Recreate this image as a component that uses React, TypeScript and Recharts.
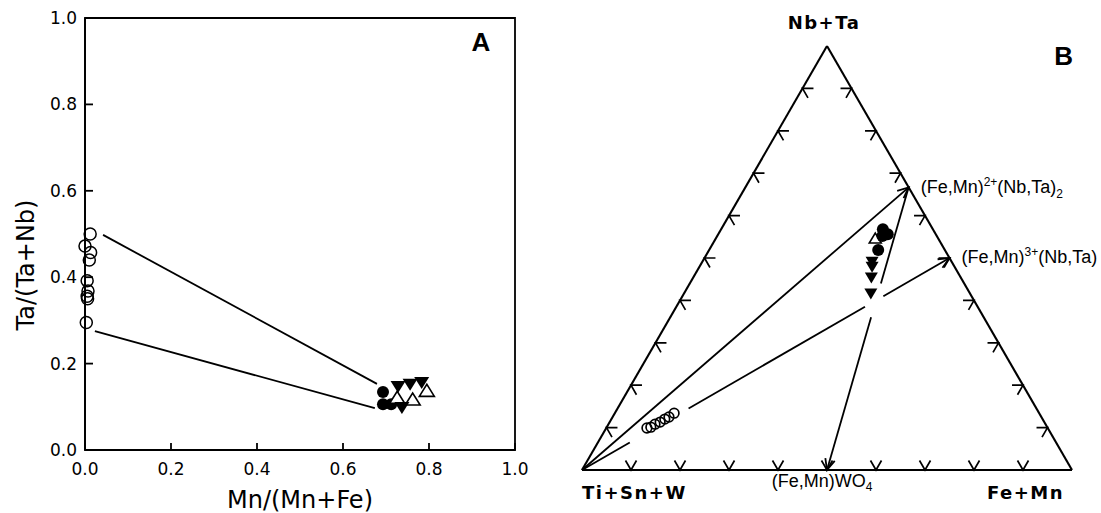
import React from 'react';
import { ScatterChart, Scatter, XAxis, YAxis, ReferenceLine, ReferenceArea } from 'recharts';

const SANS = "'DejaVu Sans', Verdana, sans-serif";
const HELV = "'Liberation Sans', Arial, Helvetica, sans-serif";
const SQ3 = Math.sqrt(3) / 2;

// ---------- panel A : Ta/(Ta+Nb) against Mn/(Mn+Fe)
const ticksA = [0, 0.2, 0.4, 0.6, 0.8, 1.0];

const aOpenCircles = [
  { x: 0.012, y: 0.5 },
  { x: 0.0, y: 0.472 },
  { x: 0.013, y: 0.457 },
  { x: 0.01, y: 0.44 },
  { x: 0.005, y: 0.392 },
  { x: 0.007, y: 0.368 },
  { x: 0.005, y: 0.356 },
  { x: 0.006, y: 0.35 },
  { x: 0.003, y: 0.295 },
];
const aFilledCircles = [
  { x: 0.693, y: 0.134 },
  { x: 0.693, y: 0.106 },
  { x: 0.712, y: 0.106 },
];
const aFilledDown = [
  { x: 0.728, y: 0.146 },
  { x: 0.756, y: 0.151 },
  { x: 0.783, y: 0.155 },
  { x: 0.737, y: 0.097 },
];
const aOpenUp = [
  { x: 0.726, y: 0.122 },
  { x: 0.762, y: 0.118 },
  { x: 0.795, y: 0.138 },
];
// tie lines between coexisting phases
const aTieLines = [
  [{ x: 0.042, y: 0.498 }, { x: 0.679, y: 0.153 }],
  [{ x: 0.023, y: 0.275 }, { x: 0.674, y: 0.097 }],
];

// ---------- panel B : ternary (Nb+Ta) - (Ti+Sn+W) - (Fe+Mn), atomic fractions
const bOpenCircles = [
  { nbTa: 0.099, feMn: 0.083 },
  { nbTa: 0.101, feMn: 0.09 },
  { nbTa: 0.108, feMn: 0.095 },
  { nbTa: 0.113, feMn: 0.103 },
  { nbTa: 0.12, feMn: 0.109 },
  { nbTa: 0.125, feMn: 0.115 },
  { nbTa: 0.134, feMn: 0.121 },
];
const bFilledCircles = [
  { nbTa: 0.568, feMn: 0.33 },
  { nbTa: 0.556, feMn: 0.346 },
  { nbTa: 0.552, feMn: 0.337 },
  { nbTa: 0.519, feMn: 0.345 },
];
const bFilledDown = [
  { nbTa: 0.49, feMn: 0.347 },
  { nbTa: 0.478, feMn: 0.353 },
  { nbTa: 0.453, feMn: 0.364 },
  { nbTa: 0.415, feMn: 0.382 },
];
const bOpenUp = [{ nbTa: 0.547, feMn: 0.325 }];

const ternaryTicks = [0.1, 0.2, 0.3, 0.4, 0.5, 0.6, 0.7, 0.8, 0.9];

const endMembers: Record<string, { nbTa: number; feMn: number }> = {
  tiSnW: { nbTa: 0, feMn: 0 },
  nbTa: { nbTa: 1, feMn: 0 },
  feMn: { nbTa: 0, feMn: 1 },
  columbite: { nbTa: 2 / 3, feMn: 1 / 3 },
  feMn3: { nbTa: 0.5, feMn: 0.5 },
  wolframite: { nbTa: 0, feMn: 0.5 },
};

// arrows: drawn pieces as fractions of the path (gaps where the original is broken)
const bMixLines = [
  { from: 'tiSnW', to: 'columbite', pieces: [[0, 1]] },
  { from: 'columbite', to: 'wolframite', pieces: [[0, 0.34], [0.46, 1]] },
  { from: 'tiSnW', to: 'feMn3', pieces: [[0, 0.13], [0.29, 0.77], [0.82, 1]] },
];

const bLabels = [
  { id: 'nbTa', at: 'nbTa', text: 'Nb+Ta' },
  { id: 'tiSnW', at: 'tiSnW', text: 'Ti+Sn+W' },
  { id: 'feMn', at: 'feMn', text: 'Fe+Mn' },
  { id: 'columbite', at: 'columbite', text: '(Fe,Mn)2+(Nb,Ta)2' },
  { id: 'feMn3', at: 'feMn3', text: '(Fe,Mn)3+(Nb,Ta)' },
  { id: 'wolframite', at: 'wolframite', text: '(Fe,Mn)WO4' },
];

const toXY = (c: { nbTa: number; feMn: number }) => ({ x: c.feMn + c.nbTa / 2, y: c.nbTa * SQ3 });

// ---------- shapes
const openCircle = (r: number, sw: number) => (p: any) => (
  <circle cx={p.cx} cy={p.cy} r={r} fill="none" stroke="#000" strokeWidth={sw} />
);
const dot = (r: number) => (p: any) => <circle cx={p.cx} cy={p.cy} r={r} fill="#000" />;
const triDown = (w: number, h: number) => (p: any) => (
  <polygon
    points={`${p.cx - w / 2},${p.cy - h / 2} ${p.cx + w / 2},${p.cy - h / 2} ${p.cx},${p.cy + h / 2}`}
    fill="#000"
  />
);
const triUp = (w: number, h: number) => (p: any) => (
  <polygon
    points={`${p.cx - w / 2},${p.cy + h / 2} ${p.cx + w / 2},${p.cy + h / 2} ${p.cx},${p.cy - h / 2}`}
    fill="#fff"
    stroke="#000"
    strokeWidth={1.6}
  />
);

const Chevron = (p: any) => (
  <path
    d="M-5.5,-9.5 L0,0 L5.5,-9.5"
    transform={`translate(${p.cx},${p.cy}) rotate(${p.payload.rot})`}
    fill="none"
    stroke="#000"
    strokeWidth={1.7}
  />
);

const segmentShape = (arrow: boolean) => (p: any) => {
  const { x1, y1, x2, y2 } = p;
  const ang = Math.atan2(y2 - y1, x2 - x1);
  const L = 12;
  const s = 0.42;
  const head = `M${x2 - L * Math.cos(ang - s)},${y2 - L * Math.sin(ang - s)} L${x2},${y2} L${x2 - L * Math.cos(ang + s)},${y2 - L * Math.sin(ang + s)}`;
  return (
    <g>
      <line x1={x1} y1={y1} x2={x2} y2={y2} stroke="#000" strokeWidth={1.8} />
      {arrow && <path d={head} fill="none" stroke="#000" strokeWidth={1.8} />}
    </g>
  );
};

const BLabel = (p: any) => {
  const { cx, cy, payload } = p;
  const big = { fontFamily: SANS, fontSize: 18, fontWeight: 700, letterSpacing: 1.5, fill: '#000' };
  const chem = { fontFamily: HELV, fontSize: 18, fill: '#000' };
  switch (payload.id) {
    case 'nbTa':
      return <text x={cx - 3} y={cy - 17} textAnchor="middle" {...big}>Nb+Ta</text>;
    case 'tiSnW':
      return <text x={cx} y={cy + 29} textAnchor="start" {...big}>Ti+Sn+W</text>;
    case 'feMn':
      return <text x={cx - 8} y={cy + 29} textAnchor="end" {...big}>Fe+Mn</text>;
    case 'columbite':
      return (
        <text x={cx + 12} y={cy + 6} {...chem}>
          (Fe,Mn)<tspan dy={-7} fontSize={12}>2+</tspan>
          <tspan dy={7}>(Nb,Ta)</tspan>
          <tspan dy={5} fontSize={12}>2</tspan>
        </text>
      );
    case 'feMn3':
      return (
        <text x={cx + 12} y={cy + 5} {...chem}>
          (Fe,Mn)<tspan dy={-7} fontSize={12}>3+</tspan>
          <tspan dy={7}>(Nb,Ta)</tspan>
        </text>
      );
    case 'wolframite':
      return (
        <text x={cx - 5} y={cy + 17} textAnchor="middle" {...chem}>
          (Fe,Mn)WO<tspan dy={4} fontSize={12}>4</tspan>
        </text>
      );
    default:
      return <g />;
  }
};

const tickStyle = { fontFamily: SANS, fontSize: 17, fill: '#000' };

const PanelA = () => (
  <ScatterChart width={560} height={513} margin={{ top: 18, right: 45, bottom: 0, left: 0 }}>
    <XAxis
      type="number"
      dataKey="x"
      domain={[0, 1]}
      ticks={ticksA}
      tickFormatter={(v: number) => v.toFixed(1)}
      height={63}
      tickSize={-7}
      tickMargin={20}
      tick={tickStyle}
      axisLine={{ stroke: '#000', strokeWidth: 1.8 }}
      tickLine={{ stroke: '#000', strokeWidth: 1.8 }}
      label={(lp: any) => {
        const vb = lp.viewBox;
        return (
          <text x={vb.x + vb.width / 2} y={vb.y + 58} textAnchor="middle" fontFamily={SANS} fontSize={24} fill="#000">
            Mn/(Mn+Fe)
          </text>
        );
      }}
    />
    <YAxis
      type="number"
      dataKey="y"
      domain={[0, 1]}
      ticks={ticksA}
      tickFormatter={(v: number) => v.toFixed(1)}
      width={85}
      tickSize={-8}
      tickMargin={16}
      tick={tickStyle}
      axisLine={{ stroke: '#000', strokeWidth: 1.8 }}
      tickLine={{ stroke: '#000', strokeWidth: 1.8 }}
      label={(lp: any) => {
        const vb = lp.viewBox;
        const cx = vb.x + 26;
        const cy = vb.y + vb.height / 2 + 31;
        return (
          <text
            x={cx}
            y={cy}
            transform={`rotate(-90 ${cx} ${cy})`}
            textAnchor="middle"
            dominantBaseline="central"
            fontFamily={SANS}
            fontSize={24}
            fill="#000"
          >
            Ta/(Ta+Nb)
          </text>
        );
      }}
    />
    <ReferenceArea
      x1={0}
      x2={1}
      y1={0}
      y2={1}
      fill="none"
      stroke="#000"
      strokeWidth={1.8}
      ifOverflow="visible"
      label={(lp: any) => {
        const vb = lp.viewBox;
        return (
          <text x={vb.x + vb.width - 34} y={vb.y + 33} textAnchor="middle" fontFamily={HELV} fontWeight={700} fontSize={26} fill="#000">
            A
          </text>
        );
      }}
    />
    {aTieLines.map((seg, i) => (
      <ReferenceLine key={i} segment={seg} stroke="#000" strokeWidth={1.8} ifOverflow="visible" />
    ))}
    <Scatter data={aOpenCircles} shape={openCircle(6, 1.5)} isAnimationActive={false} />
    <Scatter data={aFilledCircles} shape={dot(6)} isAnimationActive={false} />
    <Scatter data={aOpenUp} shape={triUp(15, 12)} isAnimationActive={false} />
    <Scatter data={aFilledDown} shape={triDown(15, 12)} isAnimationActive={false} />
  </ScatterChart>
);

const PanelB = () => {
  const edges = [
    ['tiSnW', 'feMn'],
    ['feMn', 'nbTa'],
    ['nbTa', 'tiSnW'],
  ];
  const tickPts = [
    ...ternaryTicks.map((t) => ({ ...toXY({ nbTa: 0, feMn: t }), rot: 0 })),
    ...ternaryTicks.map((t) => ({ ...toXY({ nbTa: t, feMn: 0 }), rot: 120 })),
    ...ternaryTicks.map((t) => ({ ...toXY({ nbTa: t, feMn: 1 - t }), rot: -120 })),
  ];
  const labelPts = bLabels.map((l) => ({ ...toXY(endMembers[l.at]), id: l.id, text: l.text }));
  const pieces: { a: { x: number; y: number }; b: { x: number; y: number }; arrow: boolean }[] = [];
  bMixLines.forEach((ml) => {
    const p0 = toXY(endMembers[ml.from]);
    const p1 = toXY(endMembers[ml.to]);
    const at = (t: number) => ({ x: p0.x + (p1.x - p0.x) * t, y: p0.y + (p1.y - p0.y) * t });
    ml.pieces.forEach(([t0, t1]) => pieces.push({ a: at(t0), b: at(t1), arrow: t1 === 1 }));
  });
  return (
    <ScatterChart width={541} height={513} margin={{ top: 46, right: 29, bottom: 43, left: 22 }}>
      <XAxis type="number" dataKey="x" domain={[0, 1]} hide />
      <YAxis type="number" dataKey="y" domain={[0, SQ3]} hide />
      <ReferenceArea
        x1={0}
        x2={1}
        y1={0}
        y2={SQ3}
        fill="none"
        stroke="none"
        ifOverflow="visible"
        label={(lp: any) => {
          const vb = lp.viewBox;
          return (
            <text x={vb.x + vb.width + 1} y={vb.y + 19} textAnchor="end" fontFamily={HELV} fontWeight={700} fontSize={26} fill="#000">
              B
            </text>
          );
        }}
      />
      {edges.map(([a, b]) => (
        <ReferenceLine
          key={a + b}
          segment={[toXY(endMembers[a]), toXY(endMembers[b])]}
          stroke="#000"
          strokeWidth={2.1}
          ifOverflow="visible"
        />
      ))}
      {pieces.map((pc, i) => (
        <ReferenceLine key={'m' + i} segment={[pc.a, pc.b]} ifOverflow="visible" shape={segmentShape(pc.arrow)} />
      ))}
      <Scatter data={tickPts} shape={Chevron} isAnimationActive={false} />
      <Scatter data={bOpenCircles.map(toXY)} shape={openCircle(4.8, 1.7)} isAnimationActive={false} />
      <Scatter data={bOpenUp.map(toXY)} shape={triUp(12, 10)} isAnimationActive={false} />
      <Scatter data={bFilledCircles.map(toXY)} shape={dot(6)} isAnimationActive={false} />
      <Scatter data={bFilledDown.map(toXY)} shape={triDown(13, 11)} isAnimationActive={false} />
      <Scatter data={labelPts} shape={BLabel} isAnimationActive={false} />
    </ScatterChart>
  );
};

export default function App() {
  return (
    <div style={{ position: 'absolute', left: 0, top: 0, width: 1101, height: 513, background: '#fff' }}>
      <div style={{ position: 'absolute', left: 0, top: 0 }}>
        <PanelA />
      </div>
      <div style={{ position: 'absolute', left: 560, top: 0 }}>
        <PanelB />
      </div>
    </div>
  );
}
